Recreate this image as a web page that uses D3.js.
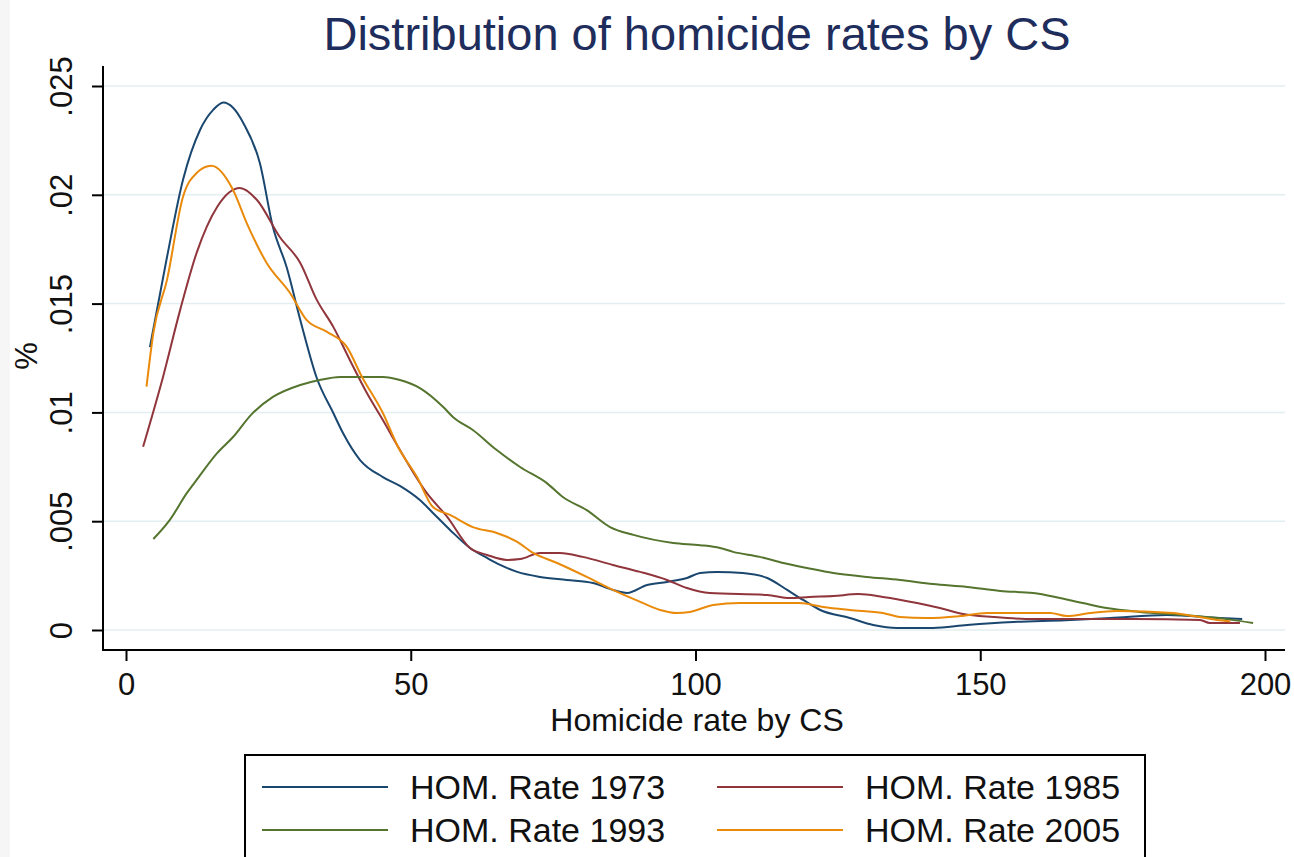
<!DOCTYPE html>
<html>
<head>
<meta charset="utf-8">
<script src="https://cdn.jsdelivr.net/npm/d3@7"></script>
<style>
  html, body { margin: 0; padding: 0; background: #ffffff; }
  svg { display: block; font-family: "Liberation Sans", Arial, sans-serif; }
</style>
</head>
<body>
<svg id="chart" width="1294" height="857"></svg>
<script>
// ---------------- DATA ----------------
const chartTitle = "Distribution of homicide rates by CS";
const xTitle = "Homicide rate by CS";
const yTitle = "%";
const xTicks = [0, 50, 100, 150, 200];
const xTickLabels = ["0", "50", "100", "150", "200"];
const yTicks = [0, 0.005, 0.01, 0.015, 0.02, 0.025];
const yTickLabels = ["0", ".005", ".01", ".015", ".02", ".025"];
const seriesNames = ["HOM. Rate 1973", "HOM. Rate 1985", "HOM. Rate 1993", "HOM. Rate 2005"];

const rate1973x = [4.2, 7.2, 10.0, 13.0, 15.3, 17.1, 18.8, 20.6, 23.5, 25.8, 28.2, 30.6, 33.5, 36.4, 38.1, 41.1, 45.1, 48.1, 51.6, 53.9, 56.9, 60.4, 63.4, 65.7, 68.7, 72.7, 77.4, 82, 85.5, 88, 91.5, 95, 98.5, 100.8, 103.8, 108.3, 112.6, 116.1, 118.9, 121.9, 127.1, 131.2, 135.4, 141.7, 147.7, 155.8, 165, 172.8, 182.8, 192.1, 196];
const rate1973y = [0.0130, 0.01714, 0.02068, 0.02298, 0.0239, 0.02424, 0.0240, 0.0233, 0.02146, 0.01852, 0.01668, 0.01425, 0.01158, 0.00997, 0.00905, 0.00781, 0.00703, 0.00662, 0.00597, 0.00538, 0.0046, 0.00377, 0.00331, 0.00299, 0.00267, 0.00244, 0.0023, 0.00216, 0.00184, 0.0017, 0.00207, 0.00221, 0.00239, 0.00262, 0.00267, 0.00262, 0.00239, 0.00184, 0.00138, 0.00092, 0.00055, 0.00023, 0.00009, 0.00009, 0.00023, 0.00037, 0.00045, 0.00055, 0.00069, 0.00055, 0.0005];

const rate1985x = [3.0, 6.5, 9.5, 12.4, 16, 20.0, 23, 27, 30.6, 33.5, 36.4, 39.3, 42.3, 45.1, 47.8, 52.8, 56.4, 60.4, 63.4, 66.9, 69.2, 72.7, 76.2, 80.2, 85.5, 90.3, 95, 98.5, 102.5, 112.6, 116.6, 120, 124.2, 128.6, 132.9, 138.9, 142.9, 147, 152.3, 159.3, 176.8, 188.6, 190.3, 195.6];
const rate1985y = [0.00842, 0.01163, 0.0147, 0.01733, 0.01944, 0.02031, 0.01976, 0.01806, 0.01687, 0.01517, 0.01393, 0.01241, 0.01089, 0.00965, 0.00841, 0.0063, 0.0052, 0.00377, 0.00345, 0.00322, 0.00326, 0.00354, 0.00354, 0.00336, 0.00299, 0.00267, 0.0023, 0.00193, 0.0017, 0.00161, 0.00147, 0.00152, 0.00156, 0.00165, 0.00152, 0.00124, 0.00101, 0.00074, 0.0006, 0.0005, 0.0005, 0.00046, 0.00032, 0.00032];

const rate1993x = [4.8, 7.7, 10.7, 12.4, 16, 18.8, 22, 25.8, 30.6, 34, 37.6, 45.1, 48.1, 51.6, 55.7, 57.4, 60.9, 65.1, 69.2, 73.9, 76.7, 80.9, 85, 89.1, 96.1, 100.8, 104.3, 106.6, 111.3, 115.4, 119.6, 124.2, 130.1, 135.9, 141.7, 147.7, 153.5, 159.3, 164, 168, 172.2, 178, 185.6, 193.3, 197.9];
const rate1993y = [0.00418, 0.00506, 0.0063, 0.0069, 0.00813, 0.00887, 0.0099, 0.01071, 0.01126, 0.01149, 0.01163, 0.01163, 0.01149, 0.01112, 0.01025, 0.00979, 0.00919, 0.00827, 0.00749, 0.00675, 0.00611, 0.00551, 0.00473, 0.00437, 0.004, 0.0039, 0.00377, 0.00359, 0.00336, 0.00308, 0.00285, 0.00262, 0.00244, 0.0023, 0.00211, 0.00198, 0.00179, 0.0017, 0.00147, 0.00124, 0.00101, 0.00083, 0.00069, 0.0005, 0.00032];

const rate2005x = [3.6, 4.8, 7.2, 10.0, 12.4, 15.0, 18.8, 21.2, 24.7, 28.8, 31.7, 35.3, 38.8, 41.3, 45.1, 47.8, 51.1, 53.9, 56.9, 60.9, 65.1, 68.7, 71.5, 75.7, 80.9, 85.5, 90.3, 93.8, 96.7, 99, 103.1, 107.8, 118.3, 122.4, 127.1, 132.9, 135.9, 140.6, 146.4, 151.2, 162.3, 165.2, 169.3, 174, 183.9, 187.4, 191.6, 193.9];
const rate2005y = [0.01118, 0.01365, 0.01609, 0.0199, 0.021, 0.02133, 0.02022, 0.0187, 0.01687, 0.01549, 0.01425, 0.0137, 0.0130, 0.0117, 0.00997, 0.0084, 0.00703, 0.00565, 0.00529, 0.00473, 0.00446, 0.00405, 0.00354, 0.00308, 0.00244, 0.00184, 0.00129, 0.00092, 0.00078, 0.00083, 0.00115, 0.00124, 0.00124, 0.00106, 0.00092, 0.00078, 0.0006, 0.00055, 0.00064, 0.00078, 0.00078, 0.00064, 0.00078, 0.00087, 0.00078, 0.00064, 0.00046, 0.0004];

// ---------------- LAYOUT / STYLE ----------------
const colors = ["#1a476f", "#90353b", "#55752f", "#ea8a0a"];
const plot = { left: 103, right: 1285, top: 66, bottom: 650 };

const svg = d3.select("#chart");
svg.append("rect").attr("width", 1294).attr("height", 857).attr("fill", "#ffffff");
// faint screenshot edge at left
svg.append("rect").attr("x", 0).attr("y", 0).attr("width", 10).attr("height", 857).attr("fill", "#f6f6f6");

const x = d3.scaleLinear().domain([0, 200]).range([126, 1265]);
const y = d3.scaleLinear().domain([0, 0.025]).range([630, 86]);

// gridlines
svg.append("g").selectAll("line").data(yTicks).join("line")
  .attr("x1", plot.left).attr("x2", plot.right)
  .attr("y1", d => y(d)).attr("y2", d => y(d))
  .attr("stroke", "#e4eef1").attr("stroke-width", 1.5);

// series lines
const series = [
  { xs: rate1973x, ys: rate1973y },
  { xs: rate1985x, ys: rate1985y },
  { xs: rate1993x, ys: rate1993y },
  { xs: rate2005x, ys: rate2005y }
];
const line = d3.line().x(d => x(d[0])).y(d => y(d[1])).curve(d3.curveMonotoneX);
series.forEach((s, i) => {
  const pts = s.xs.map((v, k) => [v, s.ys[k]]);
  svg.append("path").datum(pts)
    .attr("d", line)
    .attr("fill", "none")
    .attr("stroke", colors[i])
    .attr("stroke-width", 2)
    .attr("stroke-linejoin", "round");
});

// Y axis
const yAxis = svg.append("g").attr("transform", `translate(${plot.left},0)`)
  .call(d3.axisLeft(y).tickValues(yTicks).tickFormat((d, i) => yTickLabels[i]).tickSize(11).tickPadding(0));
yAxis.select(".domain").remove();
yAxis.selectAll(".tick line").attr("stroke", "#000").attr("stroke-width", 2);
yAxis.selectAll(".tick text")
  .attr("transform", "rotate(-90)")
  .attr("x", 0).attr("y", -31).attr("dy", null)
  .attr("text-anchor", "middle")
  .attr("font-size", 31)
  .attr("font-family", "'Liberation Sans', Arial, sans-serif")
  .attr("fill", "#111");
svg.append("line").attr("x1", plot.left).attr("x2", plot.left)
  .attr("y1", plot.top).attr("y2", plot.bottom + 1)
  .attr("stroke", "#000").attr("stroke-width", 2);

// X axis
const xAxis = svg.append("g").attr("transform", `translate(0,${plot.bottom})`)
  .call(d3.axisBottom(x).tickValues(xTicks).tickFormat((d, i) => xTickLabels[i]).tickSize(11));
xAxis.select(".domain").remove();
xAxis.selectAll(".tick line").attr("stroke", "#000").attr("stroke-width", 2);
xAxis.selectAll(".tick text")
  .attr("y", 45).attr("dy", null)
  .attr("font-size", 31)
  .attr("font-family", "'Liberation Sans', Arial, sans-serif")
  .attr("fill", "#111");
svg.append("line").attr("x1", plot.left - 1).attr("x2", plot.right)
  .attr("y1", plot.bottom).attr("y2", plot.bottom)
  .attr("stroke", "#000").attr("stroke-width", 2);

// Titles
svg.append("text").attr("x", 697).attr("y", 50)
  .attr("text-anchor", "middle").attr("font-size", 47)
  .attr("fill", "#1e2d5c").text(chartTitle);
svg.append("text").attr("x", 697).attr("y", 731)
  .attr("text-anchor", "middle").attr("font-size", 32)
  .attr("fill", "#111").text(xTitle);
svg.append("text").attr("transform", "translate(37,356) rotate(-90)")
  .attr("text-anchor", "middle").attr("font-size", 31)
  .attr("fill", "#111").text(yTitle);

// Legend
const legend = svg.append("g");
legend.append("rect").attr("x", 245).attr("y", 755).attr("width", 900).attr("height", 130)
  .attr("fill", "#fff").attr("stroke", "#000").attr("stroke-width", 2);
const legPos = [
  { lx: 262, ty: 787 }, { lx: 717, ty: 787 },
  { lx: 262, ty: 830 }, { lx: 717, ty: 830 }
];
seriesNames.forEach((name, i) => {
  const p = legPos[i];
  legend.append("line").attr("x1", p.lx).attr("x2", p.lx + 126)
    .attr("y1", p.ty).attr("y2", p.ty)
    .attr("stroke", colors[i]).attr("stroke-width", 2);
  legend.append("text").attr("x", p.lx + 148).attr("y", p.ty + 12)
    .attr("font-size", 34).attr("fill", "#111").text(name);
});
</script>
</body>
</html>
